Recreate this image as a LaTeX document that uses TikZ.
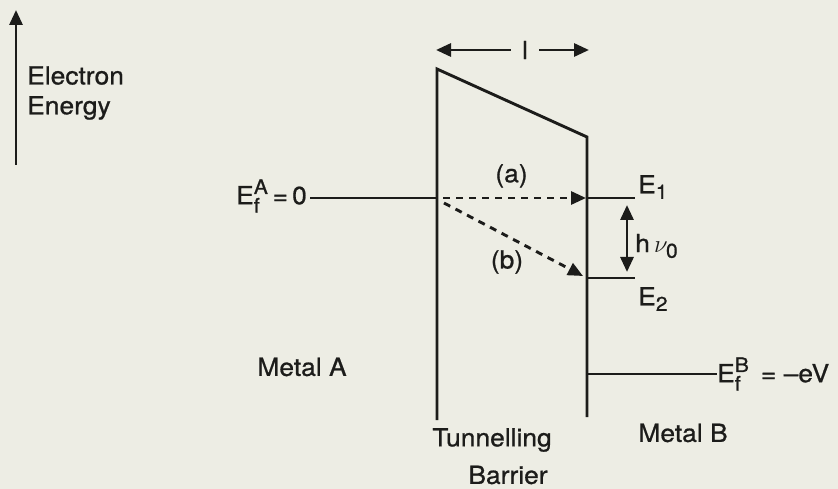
\documentclass[tikz,border=0pt]{standalone}
\usepackage{fontspec}
\setmainfont{TeX Gyre Heros}[FakeBold=0.8, FakeStretch=1.06]
\usepackage{amsmath}
\DeclareMathSizes{25}{25}{20}{16}
\usetikzlibrary{arrows.meta}
\definecolor{ink}{HTML}{1C1C1A}
\definecolor{paper}{HTML}{EDEDE4}

\begin{document}
\begin{tikzpicture}[
  x=1bp, y=-1bp,
  font=\fontsize{25}{30}\selectfont,
  lvl/.style={line width=2.9bp, draw=ink},
  arr/.style={-{Triangle[length=15bp,width=13bp]}, line width=2.9bp, draw=ink},
  tun/.style={arr, dash pattern=on 7bp off 6bp},
  lbl/.style={text=ink, inner sep=0pt},
]

% ---- Page ----
\fill[paper] (0,0) rectangle (838,489);
\useasboundingbox (0,0) rectangle (838,489);

% ---- Energy axis ----
\coordinate (axB) at (16,165);
\coordinate (axT) at (16,10);
\draw[arr] (axB) -- (axT);
\node[lbl, anchor=west, align=left] (axis) at (27,93) {Electron\\Energy};

% ---- Barrier ----
\coordinate (bTL) at (437,69);
\coordinate (bBL) at (437,420);
\coordinate (bTR) at (587,137);
\coordinate (bBR) at (587,417);
\draw[lvl] (bBL) -- (bTL) -- (bTR) -- (bBR);

% width of the barrier
\node[lbl, inner xsep=11bp] (len) at (525,50) {l};
\coordinate (lenL) at (436,50);
\coordinate (lenR) at (589,50);
\draw[arr] (len) -- (lenL);
\draw[arr] (len) -- (lenR);

% ---- Fermi level of metal A ----
\node[lbl, anchor=east] (efA) at (307,196) {$\text{E}_{\text{f}}^{\text{A}}$\,=\,0};
\coordinate (efAR) at (437,198);
\draw[lvl] (efA.east |- efAR) ++(3,0) -- (efAR);

% ---- Levels in metal B ----
\coordinate (E1L) at (587,198);
\coordinate (E1R) at (635,198);
\coordinate (E2L) at (587,278);
\coordinate (E2R) at (635,278);
\draw[lvl] (E1L) -- (E1R);
\draw[lvl] (E2L) -- (E2R);
\node[lbl, anchor=west] (e1) at (638,187) {E$_{\text{1}}$};
\node[lbl, anchor=west] (e2) at (638,299) {E$_{\text{2}}$};

\coordinate (hvT) at (627,205);
\coordinate (hvB) at (627,272);
\draw[arr, {Triangle[length=15bp,width=13bp]}-{Triangle[length=15bp,width=13bp]}] (hvT) -- (hvB);
\node[lbl, anchor=west] (hv) at (635,246) {h$\,\nu_{\text{0}}$};

% ---- Tunnelling paths ----
\draw[tun, shorten <=6bp] (efAR) -- node[lbl, above=9bp] (pa) {(a)} ([xshift=-1bp]E1L);
\coordinate (bstart) at (444,203);
\draw[tun] (bstart) -- ([shift={(-4bp,2bp)}]E2L);
\node[lbl] (pb) at (507,262) {(b)};

% ---- Fermi level of metal B ----
\coordinate (efBL) at (587,374);
\coordinate (efBR) at (717,374);
\draw[lvl] (efBL) -- (efBR);
\node[lbl, anchor=west] (efB) at (efBR) {$\text{E}_{\text{f}}^{\text{B}}$\, = --eV};

% ---- Region labels ----
\node[lbl] (mA) at (302,367) {Metal A};
\node[lbl] (mB) at (683,433) {Metal B};
\node[lbl] (tb) at (492,440) {Tunnelling};
\node[lbl] (br) at (508,475) {Barrier};

\end{tikzpicture}
\end{document}
